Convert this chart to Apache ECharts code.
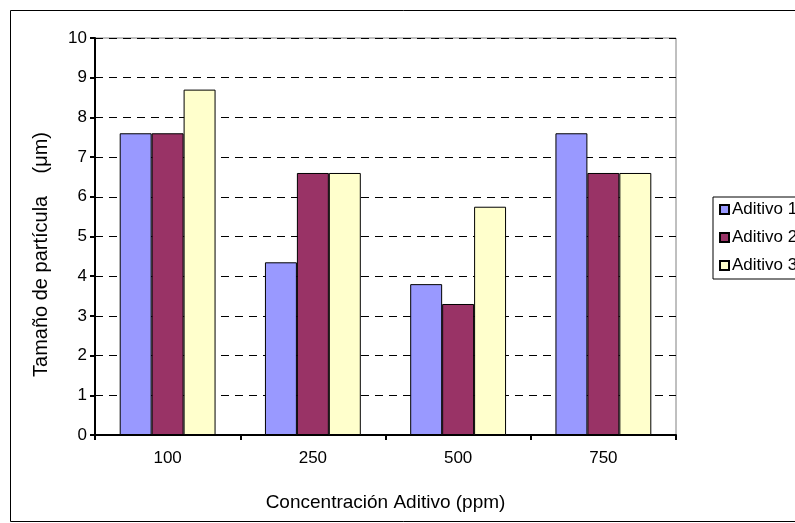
<!DOCTYPE html>
<html>
<head>
<meta charset="utf-8">
<script src="https://cdn.jsdelivr.net/npm/echarts@6/dist/echarts.min.js"></script>
<style>
html,body{margin:0;padding:0;background:#fff;}
#chart{width:795px;height:523px;}
</style>
</head>
<body>
<div id="chart"></div>
<script>
var categories = ['100', '250', '500', '750'];
var seriesNames = ['Aditivo 1', 'Aditivo 2', 'Aditivo 3'];
var aditivo1 = [7.6, 4.35, 3.8, 7.6];
var aditivo2 = [7.6, 6.6, 3.3, 6.6];
var aditivo3 = [8.7, 6.6, 5.75, 6.6];
var colors = ['#9999FF', '#993366', '#FFFFCC'];
var FONT = '"Liberation Sans", Arial, sans-serif';

var chart = echarts.init(document.getElementById('chart'));
var dataSets = [aditivo1, aditivo2, aditivo3];
var series = dataSets.map(function (d, i) {
  return {
    name: seriesNames[i],
    type: 'bar',
    data: d,
    barGap: '0%',
    barCategoryGap: '34%',
    itemStyle: { color: colors[i], borderColor: '#000', borderWidth: 1 },
    emphasis: { disabled: true }
  };
});

chart.setOption({
  animation: false,
  backgroundColor: '#fff',
  textStyle: { fontFamily: FONT },
  graphic: [{
    type: 'rect',
    shape: { x: 10.5, y: 10.5, width: 820, height: 511 },
    style: { fill: 'none', stroke: '#000', lineWidth: 1 },
    z: -10
  }],
  grid: {
    left: 95, right: 119, top: 38, bottom: 88,
    show: true, borderColor: '#808080', borderWidth: 1, backgroundColor: 'transparent'
  },
  legend: {
    orient: 'vertical',
    left: 713, top: 197,
    padding: [4, 40, 5, 6],
    itemGap: 11,
    itemWidth: 9, itemHeight: 9,
    icon: 'rect',
    borderColor: '#000', borderWidth: 1,
    textStyle: { fontFamily: FONT, fontSize: 17, color: '#000', padding: [0, 0, 0, -2] },
    data: seriesNames
  },
  xAxis: {
    type: 'category',
    data: categories,
    name: 'Concentración Aditivo (ppm)',
    nameLocation: 'middle',
    nameGap: 58,
    nameTextStyle: { fontFamily: FONT, fontSize: 19, color: '#000' },
    axisLine: { lineStyle: { color: '#000', width: 2 } },
    axisTick: { show: true, length: 5, lineStyle: { color: '#000', width: 2 } },
    axisLabel: { fontFamily: FONT, fontSize: 17, color: '#000', margin: 15 },
    splitLine: { show: false }
  },
  yAxis: {
    type: 'value',
    min: 0, max: 10, interval: 1,
    name: 'Tamaño de partícula    (μm)',
    nameLocation: 'middle',
    nameGap: 44,
    nameTextStyle: { fontFamily: FONT, fontSize: 20, color: '#000', padding: [0, 36, 0, 0] },
    axisLine: { show: true, lineStyle: { color: '#000', width: 2 } },
    axisTick: { show: true, length: 5, lineStyle: { color: '#000', width: 2 } },
    axisLabel: { fontFamily: FONT, fontSize: 17, color: '#000', margin: 8 },
    splitLine: { show: true, lineStyle: { color: '#000', type: [8, 6], width: 1 } }
  },
  series: series
});
</script>
</body>
</html>
